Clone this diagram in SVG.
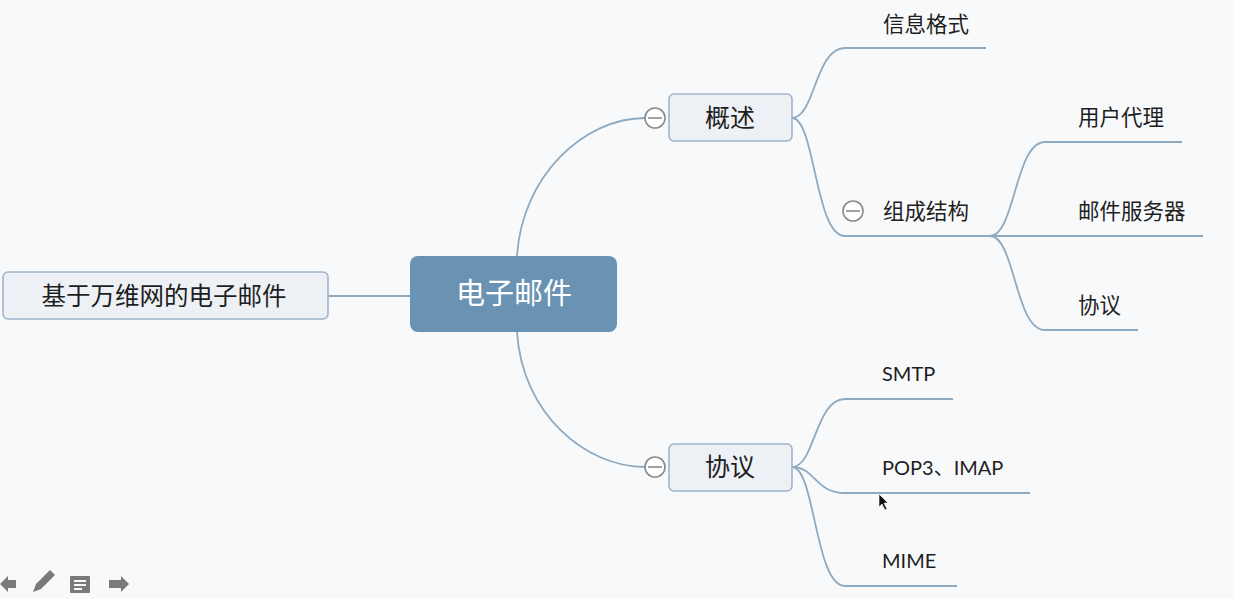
<svg xmlns="http://www.w3.org/2000/svg" width="1233" height="599" viewBox="0 0 1233 599">
<style>
.bg{fill:#f8f9fb}
.box{fill:#edf1f6;stroke:#9fb4c8;stroke-width:1.6}
.main{fill:#6a93b3}
.con{fill:none;stroke:#8eaac1;stroke-width:1.8}
.t{font-family:"Noto Sans CJK SC","Liberation Sans",sans-serif;fill:#1e1e1e}
.lat{font-family:"Lato","Noto Sans CJK SC",sans-serif;fill:#1e1e1e}
.minus circle{fill:#fff;stroke:#8a8a8a;stroke-width:1.6}
.minus line{stroke:#8a8a8a;stroke-width:1.6}
.ic{fill:#7a7a7a}
</style>
<rect class="bg" x="0" y="0" width="1233" height="599"/>
<g id="connectors">
<path class="con" d="M328,296 L410,296"/>
<path class="con" d="M517,256 C522,175 585,118 645,118"/>
<path class="con" d="M517,332 C522,413 585,467 645,467"/>
<path class="con" d="M792,118 C815,118 815,48 845,48 L986,48"/>
<path class="con" d="M792,118 C815,118 815,236 845,236 L990,236"/>
<path class="con" d="M990,236 C1015,236 1015,142 1045,142 L1182,142"/>
<path class="con" d="M990,236 L1203,236"/>
<path class="con" d="M990,236 C1015,236 1015,330 1045,330 L1138,330"/>
<path class="con" d="M792,467 C815,467 815,399 845,399 L953,399"/>
<path class="con" d="M792,467 C815,467 815,493 845,493 L1030,493"/>
<path class="con" d="M792,467 C815,467 815,586 845,586 L957,586"/>
</g>
<g id="node-root-left">
<rect class="box" x="3" y="272" width="325" height="47" rx="5"/>
<text class="t" x="164" y="305" font-size="24.5" text-anchor="middle">基于万维网的电子邮件</text>
</g>
<g id="node-center">
<rect class="main" x="410" y="256" width="207" height="76" rx="8"/>
<text class="t" x="514" y="304" font-size="29" text-anchor="middle" style="fill:#fff">电子邮件</text>
</g>
<g id="node-gaishu">
<g class="minus"><circle cx="655" cy="118" r="10"/><line x1="648" y1="118" x2="662" y2="118"/></g>
<rect class="box" x="669" y="94" width="123" height="47" rx="5"/>
<text class="t" x="730" y="127" font-size="25" text-anchor="middle">概述</text>
</g>
<g id="node-xieyi">
<g class="minus"><circle cx="655" cy="467" r="10"/><line x1="648" y1="467" x2="662" y2="467"/></g>
<rect class="box" x="669" y="444" width="123" height="47" rx="5"/>
<text class="t" x="730" y="476" font-size="25" text-anchor="middle">协议</text>
</g>
<g id="node-xinxigeshi">
<text class="t" x="883" y="32" font-size="21.5">信息格式</text>
</g>
<g id="node-zuchengjiegou">
<g class="minus"><circle cx="853" cy="211" r="10"/><line x1="846" y1="211" x2="860" y2="211"/></g>
<text class="t" x="883" y="219" font-size="21.5">组成结构</text>
</g>
<g id="node-yonghudaili">
<text class="t" x="1078" y="125" font-size="21.5">用户代理</text>
</g>
<g id="node-youjianfuwuqi">
<text class="t" x="1078" y="219" font-size="21.5">邮件服务器</text>
</g>
<g id="node-xieyi2">
<text class="t" x="1078" y="313" font-size="21.5">协议</text>
</g>
<g id="node-smtp">
<text class="lat" x="882" y="381" font-size="20">SMTP</text>
</g>
<g id="node-pop3">
<text class="lat" x="882" y="475" font-size="20">POP3、IMAP</text>
</g>
<g id="node-mime">
<text class="lat" x="882" y="568" font-size="20">MIME</text>
</g>
<g id="toolbar">
<path class="ic" d="M0,584 L8,576 L8,580 L16,580 L16,588 L8,588 L8,592 Z"/>
<path class="ic" d="M33,592 L36,584 L50,570 L55,575 L41,589 Z"/>
<rect class="ic" x="70" y="576" width="20" height="17" rx="1"/>
<rect x="74" y="580" width="12" height="2" fill="#f8f9fb"/>
<rect x="74" y="584" width="12" height="2" fill="#f8f9fb"/>
<rect x="74" y="588" width="8" height="2" fill="#f8f9fb"/>
<path class="ic" d="M129,584 L121,576 L121,580 L109,580 L109,588 L121,588 L121,592 Z"/>
</g>
<path d="M879,494 L879,507 L882,504 L885,510 L887,509 L884,503 L888,503 Z" fill="#111" stroke="#fff" stroke-width="0.6"/>
</svg>
